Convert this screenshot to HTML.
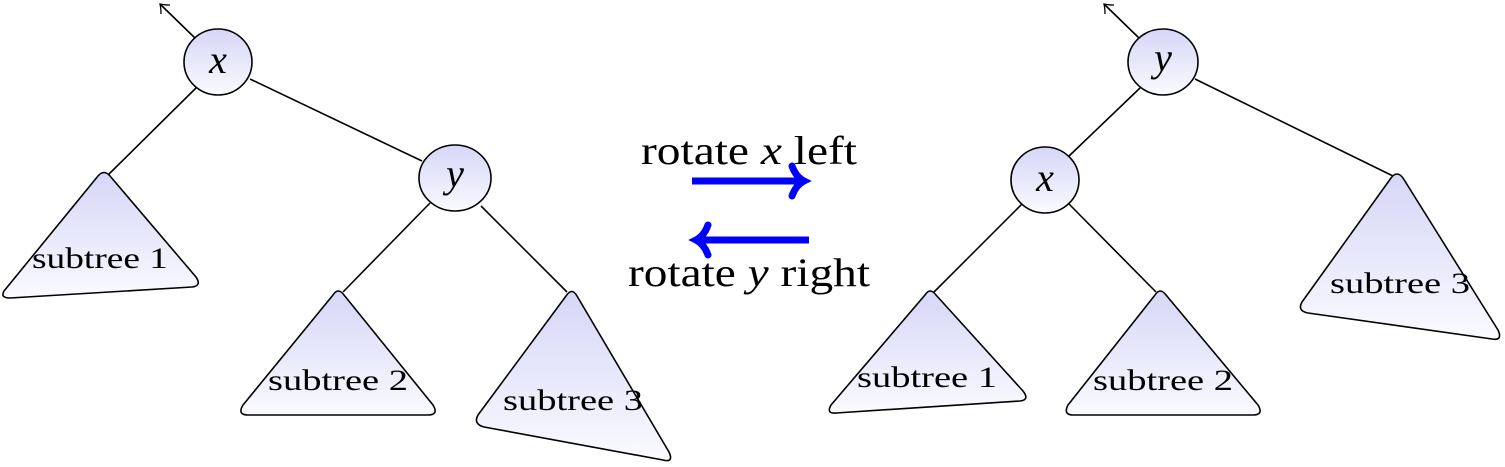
<!DOCTYPE html>
<html><head><meta charset="utf-8"><style>
html,body{margin:0;padding:0;background:#fff;}
svg{display:block;}
text{font-family:"Liberation Serif",serif;fill:#000;}
</style></head><body>
<svg width="1505" height="467" viewBox="0 0 1505 467" xmlns="http://www.w3.org/2000/svg">
<defs>
<linearGradient id="g" x1="0" y1="0" x2="0" y2="1">
<stop offset="0" stop-color="#d6d6f8"/><stop offset="1" stop-color="#fafaff"/>
</linearGradient>
</defs>
<g stroke="#000" stroke-width="1.6" fill="none">
<line x1="196" y1="88" x2="107" y2="176"/>
<line x1="250" y1="79" x2="422" y2="161"/>
<line x1="430" y1="203" x2="343" y2="292"/>
<line x1="481" y1="206" x2="567" y2="292"/>
<line x1="196" y1="39" x2="161" y2="5"/>
<path d="M161,14 Q161,8 160,4 Q164,5 170,5" stroke-width="1.3"/>
<line x1="1140" y1="88" x2="1068" y2="157"/>
<line x1="1195" y1="79" x2="1393" y2="176"/>
<line x1="1022" y1="204" x2="934" y2="292"/>
<line x1="1069" y1="204" x2="1156" y2="292"/>
<line x1="1139" y1="38" x2="1105" y2="5"/>
<path d="M1105,14 Q1105,8 1104,4 Q1108,5 1114,5" stroke-width="1.3"/>
</g>
<g stroke="#000" stroke-width="1.6" stroke-linejoin="round" fill="url(#g)">
<path d="M98,176 Q104,169 110,176 L196,277 Q202,286 192,287 L10,298 Q0,298 4,291 Z"/>
<path d="M333,295 Q338,287 344,295 L433,405 Q439,415 428,415 L248,415 Q237,415 243,405 Z"/>
<path d="M566,296 Q572,287 577,296 L669,452 Q674,463 663,460 L484,427 Q473,424 478,415 Z"/>
<path d="M925,295 Q930,287 936,295 L1023,391 Q1030,400 1020,401 L836,413 Q826,414 831,405 Z"/>
<path d="M1155,295 Q1160,287 1166,295 L1258,405 Q1264,415 1253,415 L1073,415 Q1063,415 1068,405 Z"/>
<path d="M1391,178 Q1397,170 1403,178 L1498,330 Q1503,341 1492,339 L1308,313 Q1297,311 1302,302 Z"/>
<ellipse cx="218" cy="62" rx="34" ry="33"/>
<ellipse cx="455" cy="178" rx="36" ry="33"/>
<ellipse cx="1163" cy="62" rx="35" ry="33"/>
<ellipse cx="1045" cy="180" rx="34" ry="33"/>
</g>
<g font-size="40" font-style="italic" text-anchor="middle">
<text x="218" y="73">x</text>
<text x="455" y="187">y</text>
<text x="1163" y="71">y</text>
<text x="1045" y="191">x</text>
</g>
<g font-size="30" text-anchor="middle">
<text x="100" y="268" textLength="136" lengthAdjust="spacingAndGlyphs">subtree 1</text>
<text x="338" y="390" textLength="140" lengthAdjust="spacingAndGlyphs">subtree 2</text>
<text x="573" y="410" textLength="140" lengthAdjust="spacingAndGlyphs">subtree 3</text>
<text x="927" y="387" textLength="140" lengthAdjust="spacingAndGlyphs">subtree 1</text>
<text x="1163" y="390" textLength="140" lengthAdjust="spacingAndGlyphs">subtree 2</text>
<text x="1400" y="293" textLength="140" lengthAdjust="spacingAndGlyphs">subtree 3</text>
</g>
<g font-size="40" text-anchor="middle">
<text x="749" y="164" textLength="216" lengthAdjust="spacingAndGlyphs">rotate <tspan font-style="italic">x</tspan> left</text>
<text x="749" y="286" textLength="242" lengthAdjust="spacingAndGlyphs">rotate <tspan font-style="italic">y</tspan> right</text>
</g>
<g stroke="#0000ff" stroke-width="7" fill="none" stroke-linecap="round">
<line x1="692" y1="181" x2="800" y2="181" stroke-linecap="butt"/>
<path d="M792,166 Q796,177 804,181 Q796,185 792,196"/>
<line x1="700" y1="240" x2="809" y2="240" stroke-linecap="butt"/>
<path d="M708,225 Q704,236 696,240 Q704,244 708,255"/>
</g>
</svg>
</body></html>
